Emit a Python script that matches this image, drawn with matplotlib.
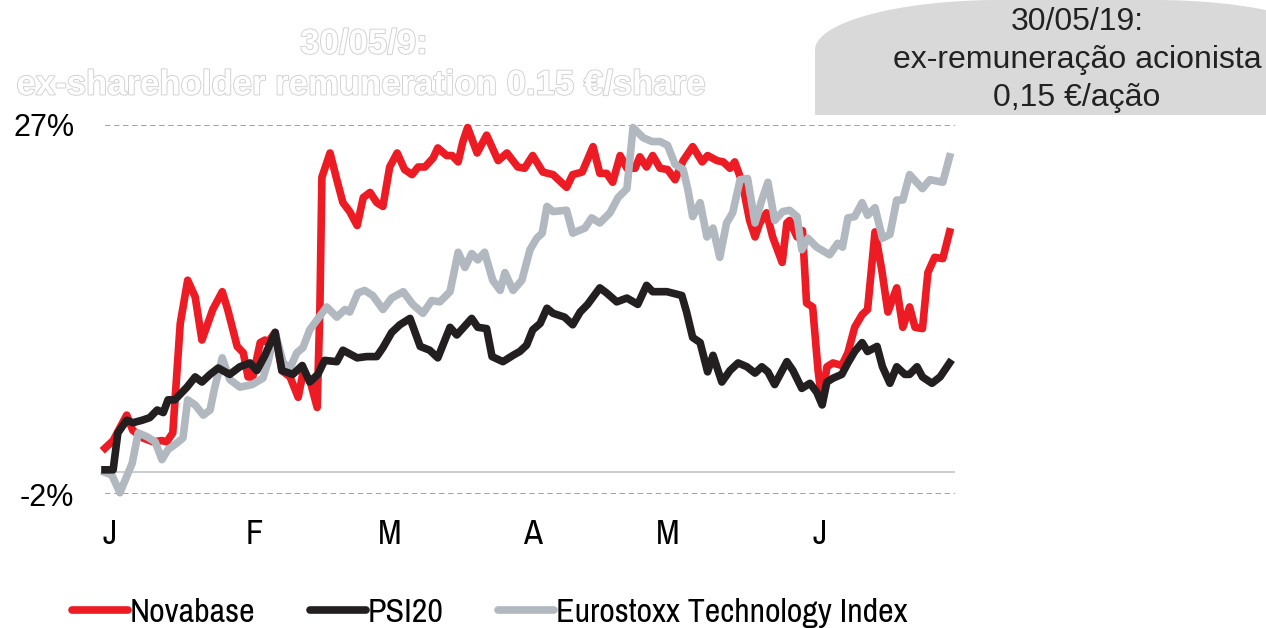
import numpy as np
import matplotlib
matplotlib.use("Agg")
import matplotlib.pyplot as plt
from matplotlib.path import Path
from matplotlib.patches import PathPatch
from matplotlib.lines import Line2D
import matplotlib.patheffects as pe

# trading day index (0 = 2 Jan 2019) and performance in %
nova_day = [0, 1.2, 3.2, 4.1, 5.6, 7.1, 8.4, 9.1, 10.0, 11.1, 12.2, 13.3, 14.3, 15.9, 17.3, 18.1,
            19.5, 20.4, 21.1, 21.8, 22.9, 23.6, 24.0, 25.1, 26.1, 27.3, 28.5, 29.2, 30.2, 31.3,
            31.7, 32.0, 33.2, 34.2, 35.1, 36.1, 37.2, 38.1, 39.1, 40.1, 41.0, 42.0, 43.1, 44.2,
            45.3, 46.2, 47.2, 48.4, 49.1, 50.4, 51.2, 52.1, 52.8, 53.5, 54.9, 56.3, 58.0, 59.3,
            60.9, 61.9, 63.1, 64.6, 66.1, 68.1, 69.0, 70.4, 72.0, 73.0, 74.0, 74.9, 76.0, 77.0,
            78.2, 78.9, 79.9, 80.8, 81.9, 83.0, 84.1, 85.3, 86.7, 88.1, 88.9, 90.3, 91.2, 92.2,
            92.9, 94.0, 95.1, 95.9, 96.6, 97.6, 98.5, 99.9, 100.6, 101.0, 102.1, 102.9, 103.5,
            104.4, 105.2, 105.8, 106.5, 107.4, 108.7, 109.6, 110.6, 111.7, 112.5, 113.6, 114.6,
            115.5, 116.8, 117.7, 118.7, 119.5, 120.6, 121.4, 122.4, 123.6, 124.6]
nova_val = [1.6, 2.2, 4.2, 3.0, 2.4, 2.1, 2.2, 2.1, 2.8, 11.4, 14.8, 13.5, 10.1, 12.5, 13.9, 12.5,
            9.6, 9.1, 7.2, 7.2, 9.9, 10.1, 9.9, 10.7, 7.7, 7.2, 5.6, 7.5, 7.0, 4.8,
            12.5, 22.9, 24.8, 22.7, 20.9, 20.2, 19.1, 21.3, 21.7, 20.9, 20.6, 23.7, 24.8, 23.5,
            23.1, 23.7, 23.7, 24.4, 25.2, 24.6, 24.6, 24.1, 25.7, 26.8, 24.8, 26.2, 24.2, 24.8,
            23.7, 23.6, 24.6, 23.3, 23.1, 22.1, 23.1, 23.3, 25.3, 23.2, 23.2, 22.5, 24.6, 23.6,
            23.6, 24.5, 23.7, 24.6, 23.6, 23.5, 22.7, 24.2, 25.3, 24.1, 24.6, 24.2, 24.1, 23.6,
            24.1, 22.5, 19.5, 18.2, 19.3, 20.1, 18.2, 16.2, 19.3, 19.5, 18.2, 18.7, 13.0,
            12.7, 7.7, 5.2, 8.0, 8.3, 8.1, 9.1, 11.1, 12.1, 12.5, 18.6, 15.6,
            12.3, 14.2, 11.1, 12.7, 11.1, 11.0, 15.4, 16.6, 16.5, 18.6]

psi_day = [0, 1.2, 1.9, 3.2, 4.1, 5.5, 6.6, 7.7, 8.6, 9.3, 10.3, 12.1, 13.3, 14.3, 15.5, 16.7,
           18.4, 19.9, 21.4, 22.4, 23.6, 25.1, 26.1, 27.7, 29.1, 30.2, 31.4, 32.4, 34.2, 35.1,
           37.2, 38.6, 40.1, 41.0, 42.3, 43.5, 45.0, 46.5, 47.9, 49.1, 50.9, 51.9, 54.1, 55.0,
           56.3, 57.1, 58.7, 60.2, 61.2, 62.2, 63.1, 64.2, 65.2, 66.1, 67.8, 69.0, 70.1, 71.2,
           73.0, 74.0, 75.5, 77.0, 78.6, 79.9, 80.8, 82.9, 85.1, 85.8, 86.7, 87.8, 88.9, 89.7,
           91.0, 92.2, 93.4, 94.7, 95.9, 96.9, 97.8, 98.8, 100.6, 101.5, 102.8, 104.0, 105.0,
           105.8, 106.5, 107.4, 108.7, 109.6, 110.6, 111.7, 112.5, 113.9, 114.7, 115.8, 116.8,
           118.0, 118.7, 119.8, 120.6, 122.0, 123.2, 124.6]
psi_val = [-0.1, -0.1, 2.8, 3.8, 3.6, 3.8, 4.0, 4.6, 4.4, 5.4, 5.4, 6.4, 7.2, 6.8, 7.4, 7.9,
           7.4, 8.0, 8.3, 7.7, 8.9, 10.7, 7.7, 7.4, 8.1, 6.8, 7.4, 8.5, 8.4, 9.3,
           8.7, 8.8, 8.8, 9.5, 10.7, 11.3, 11.8, 9.6, 9.3, 8.7, 11.1, 10.5, 11.8, 11.1,
           11.0, 8.8, 8.4, 8.9, 9.2, 9.7, 10.9, 11.4, 12.6, 12.2, 11.9, 11.3, 12.3, 12.9,
           14.2, 13.8, 13.1, 13.4, 12.9, 14.4, 13.9, 13.9, 13.6, 12.3, 10.3, 9.9, 7.6, 8.9,
           6.8, 7.7, 8.3, 8.0, 7.5, 8.0, 7.6, 6.6, 8.4, 7.7, 6.3, 6.7, 6.0,
           5.0, 6.8, 7.1, 7.4, 8.3, 9.2, 9.9, 9.2, 9.6, 8.0, 6.7, 8.0,
           7.4, 7.4, 8.0, 7.2, 6.7, 7.2, 8.3]

tech_day = [0, 1.0, 2.2, 4.0, 4.9, 6.2, 7.4, 8.4, 9.3, 10.6, 11.5, 12.2, 13.3, 14.5, 15.5, 16.2,
            17.3, 18.4, 19.9, 21.7, 23.3, 24.0, 25.1, 26.3, 27.3, 28.3, 29.2, 30.2, 31.3, 32.7,
            34.2, 35.4, 36.1, 37.3, 38.3, 39.5, 41.0, 42.3, 44.0, 45.4, 46.9, 48.2, 49.4, 50.9,
            52.1, 53.1, 54.1, 55.0, 56.0, 57.2, 58.3, 59.0, 60.2, 61.5, 62.7, 63.7, 64.5, 65.2,
            66.1, 68.1, 69.0, 70.8, 71.8, 73.0, 74.5, 75.7, 77.0, 77.9, 79.4, 80.7, 81.9, 83.0,
            84.1, 85.3, 86.0, 86.7, 87.8, 88.8, 89.7, 90.7, 91.7, 92.6, 93.7, 94.8, 95.9, 96.9,
            97.8, 98.8, 100.0, 101.0, 102.1, 102.8, 103.7, 105.0, 106.9, 108.1, 108.8, 109.6,
            110.6, 111.7, 112.5, 113.6, 114.7, 115.8, 116.8, 117.7, 118.7, 120.6, 121.7, 123.6,
            124.6]
tech_val = [-0.3, -0.5, -1.9, 0.4, 2.8, 2.5, 2.1, 0.7, 1.5, 2.0, 2.4, 5.4, 5.0, 4.2, 4.6, 6.4,
            8.7, 7.0, 6.4, 6.6, 7.1, 8.3, 10.7, 8.3, 7.9, 9.1, 9.5, 10.9, 11.7, 12.7,
            11.9, 12.5, 12.3, 13.8, 14.0, 13.6, 12.5, 13.4, 13.9, 12.9, 12.2, 13.2, 13.1, 13.9,
            17.0, 15.8, 16.9, 16.4, 17.0, 14.8, 14.0, 15.4, 14.0, 14.8, 17.2, 18.1, 18.5, 20.6,
            20.2, 20.3, 18.5, 18.9, 19.7, 19.3, 20.1, 21.3, 22.0, 26.8, 26.0, 25.7, 25.7, 25.4,
            23.9, 23.5, 21.9, 19.8, 20.9, 18.2, 18.9, 16.6, 19.3, 20.1, 22.7, 22.8, 19.3, 21.1,
            22.5, 19.5, 20.2, 20.3, 19.8, 17.2, 18.1, 17.4, 16.8, 17.7, 17.4, 19.7,
            19.8, 20.9, 19.9, 20.5, 18.1, 18.4, 21.1, 21.1, 23.1, 22.0, 22.7, 22.5,
            24.5]

month_pos = [0.7, 22, 42, 63, 83, 105.5]
month_labels = ["J", "F", "M", "A", "M", "J"]
y_ticks = [-2, 27]
y_labels = ["-2%", "27%"]
base_level = -0.3

RED = "#ED1C24"
BLACK = "#231F20"
GREY = "#B2B8C0"
NARROW = ["Archivo Narrow", "PT Sans Narrow", "DejaVu Sans"]

W, H = 1266, 628
fig = plt.figure(figsize=(W / 100, H / 100), dpi=100)
ax = fig.add_axes([105 / W, 1 - 494 / H, 850 / W, 369 / H])

# grey annotation bubble (top right), built in pixel units then scaled to figure fraction
x0, x1, ytop, ybot, rx, ry = 815, 1340, 0, 115, 185, 50
t = np.linspace(0, np.pi / 2, 40)
left_arc = np.column_stack([x0 + rx - rx * np.cos(t), ytop + ry - ry * np.sin(t)])
right_arc = np.column_stack([x1 - rx + rx * np.sin(t), ytop + ry - ry * np.cos(t)])
pts = np.vstack([[[x0, ybot]], left_arc, right_arc, [[x1, ybot]], [[x0, ybot]]])
pts_fig = np.column_stack([pts[:, 0] / W, 1 - pts[:, 1] / H])
fig.add_artist(PathPatch(Path(pts_fig), facecolor="#D9D9D9", edgecolor="none",
                         transform=fig.transFigure, zorder=0))

fig.text(1077 / W, 1 - 22 / H, "30/05/19:", ha="center", va="center", fontsize=23,
         color="#222222", family="Liberation Sans")
fig.text(1077 / W, 1 - 60 / H, "ex-remuneração acionista", ha="center", va="center",
         fontsize=23, color="#222222", family="Liberation Sans")
fig.text(1077 / W, 1 - 98 / H, "0,15 €/ação", ha="center", va="center", fontsize=23,
         color="#222222", family="Liberation Sans")

ghost = [pe.withStroke(linewidth=1.3, foreground="#cfcfcf")]
fig.text(364 / W, 1 - 44 / H, "30/05/9:", ha="center", va="center", fontsize=25,
         fontweight="bold", color="white", family="Liberation Sans", path_effects=ghost)
fig.text(361 / W, 1 - 85 / H, "ex-shareholder remuneration 0.15 €/share", ha="center",
         va="center", fontsize=25, fontweight="bold", color="white",
         family="Liberation Sans", path_effects=ghost)

ax.axhline(27, color="#9a9a9a", lw=1.3, ls=(0, (3, 2)), zorder=1)
ax.axhline(-2, color="#9a9a9a", lw=1.3, ls=(0, (3, 2)), zorder=1)
ax.axhline(base_level, color="#c4c8d0", lw=1.3, zorder=1)

ax.plot(nova_day, nova_val, color=RED, lw=5.5, solid_joinstyle="round", zorder=2, clip_on=False)
ax.plot(tech_day, tech_val, color=GREY, lw=5.5, solid_joinstyle="round", zorder=3, clip_on=False)
ax.plot(psi_day, psi_val, color=BLACK, lw=5.5, solid_joinstyle="round", zorder=4, clip_on=False)

ax.set_xlim(0, 125.4)
ax.set_ylim(-2, 27)
for s in ax.spines.values():
    s.set_visible(False)
ax.set_yticks(y_ticks)
ax.set_yticklabels(y_labels, fontsize=22, family="Liberation Sans")
ax.set_xticks(month_pos)
ax.set_xticklabels(month_labels, fontsize=25, family=NARROW)
ax.tick_params(axis="y", length=0, pad=22)
ax.tick_params(axis="x", length=0, pad=17)

handles = [Line2D([], [], color=c, lw=5.5, solid_capstyle="round") for c in (RED, BLACK, GREY)]
fig.legend(handles, ["Novabase", "PSI20", "Eurostoxx Technology Index"], loc="center",
           bbox_to_anchor=(490 / W, 1 - 613 / H), ncol=3, frameon=False,
           prop={"family": NARROW, "size": 24.5}, handlelength=1.65, handletextpad=0.05,
           columnspacing=1.6)

fig.savefig("out.png", dpi=100)
